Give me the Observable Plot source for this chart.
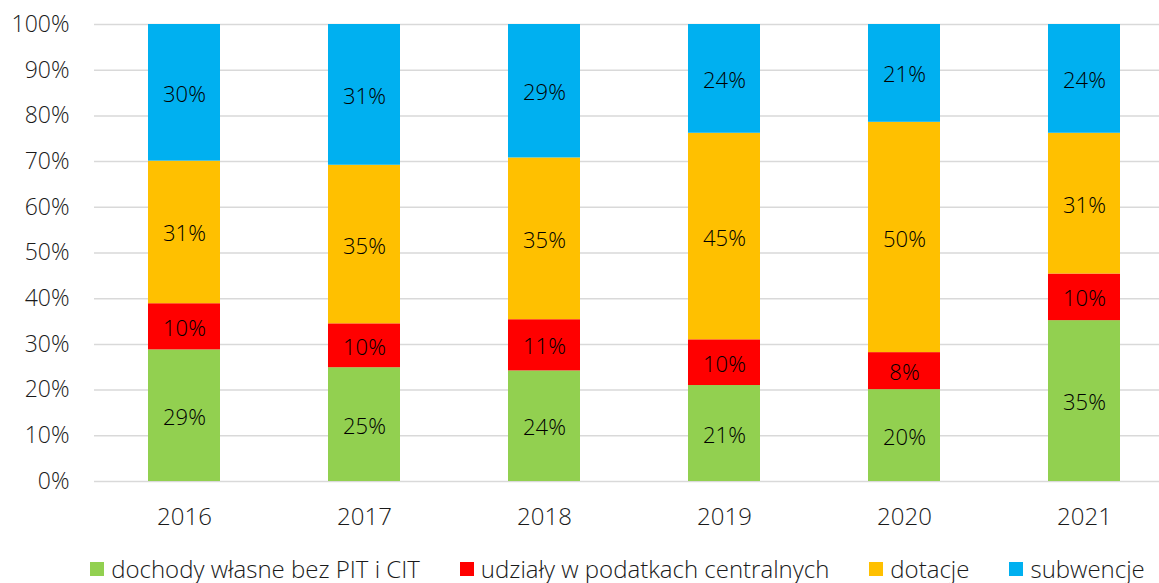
<!DOCTYPE html>
<html>
<head>
<meta charset="utf-8">
<script src="https://cdn.jsdelivr.net/npm/d3@7"></script>
<script src="https://cdn.jsdelivr.net/npm/@observablehq/plot@0.6"></script>
<style>
  html, body { margin: 0; padding: 0; background: #fff; }
  body { width: 1159px; height: 583px; overflow: hidden; font-family: "Open Sans", Lato, sans-serif; font-weight: 300; }
  #legend { display: flex; justify-content: center; align-items: center; gap: 40px; margin-top: 14px; padding-left: 76px; font-size: 24px; line-height: 30px; color: #1a1a1a; white-space: nowrap; }
  .item { display: flex; align-items: center; gap: 7px; }
  .sw { width: 14px; height: 14px; display: inline-block; }
  svg text { font-weight: 300; }
</style>
</head>
<body>
<div id="chart"></div>
<div id="legend"></div>
<script>
const years = ["2016", "2017", "2018", "2019", "2020", "2021"];
const seriesNames = ["dochody własne bez PIT i CIT", "udziały w podatkach centralnych", "dotacje", "subwencje"];
const seriesColors = ["#92D050", "#FF0000", "#FFC000", "#00B0F0"];
const dochodyWlasne = [28.8, 24.9, 24.2, 21.0, 20.1, 35.2];
const udzialy = [10.1, 9.6, 11.2, 10.0, 8.1, 10.2];
const dotacje = [31.2, 34.7, 35.4, 45.2, 50.4, 30.8];
const subwencje = [29.9, 30.8, 29.2, 23.8, 21.4, 23.8];
const yTicks = [0, 10, 20, 30, 40, 50, 60, 70, 80, 90, 100];

const seriesValues = [dochodyWlasne, udzialy, dotacje, subwencje];
const data = [];
seriesNames.forEach((s, i) => years.forEach((y, j) => data.push({year: y, series: s, value: seriesValues[i][j]})));

const W = 1159, H = 540;
const font = "'Open Sans', Lato, sans-serif";
const chart = Plot.plot({
  width: W,
  height: H,
  marginLeft: 94,
  marginRight: 0,
  marginTop: 24,
  marginBottom: 59,
  style: {fontFamily: font, fontSize: "22px", color: "#1a1a1a", background: "#fff"},
  x: {domain: years, range: [94, 1174], paddingInner: 0.6, paddingOuter: 0.3, label: null},
  y: {domain: [0, 100], label: null},
  color: {domain: seriesNames, range: seriesColors},
  marks: [
    Plot.ruleY(yTicks, {stroke: "#d9d9d9", strokeWidth: 1.5}),
    Plot.barY(data, Plot.stackY({x: "year", y: "value", z: "series", fill: "series", order: seriesNames})),
    Plot.text(data, Plot.stackY({x: "year", y: "value", z: "series", order: seriesNames, text: d => Math.round(d.value) + "%", fill: "#000", fontSize: 22, dy: 2})),
    Plot.axisY({ticks: yTicks, tickSize: 0, tickPadding: 25, tickFormat: d => d + "%", fontSize: 23, fill: "#1a1a1a"}),
    Plot.axisX({tickSize: 0, tickPadding: 26, fontSize: 24, fill: "#1a1a1a"})
  ]
});
document.getElementById("chart").appendChild(chart);

const legend = document.getElementById("legend");
seriesNames.forEach((s, i) => {
  const it = document.createElement("span");
  it.className = "item";
  const sw = document.createElement("span");
  sw.className = "sw";
  sw.style.background = seriesColors[i];
  const t = document.createElement("span");
  t.textContent = s;
  it.appendChild(sw); it.appendChild(t);
  legend.appendChild(it);
});
</script>
</body>
</html>
